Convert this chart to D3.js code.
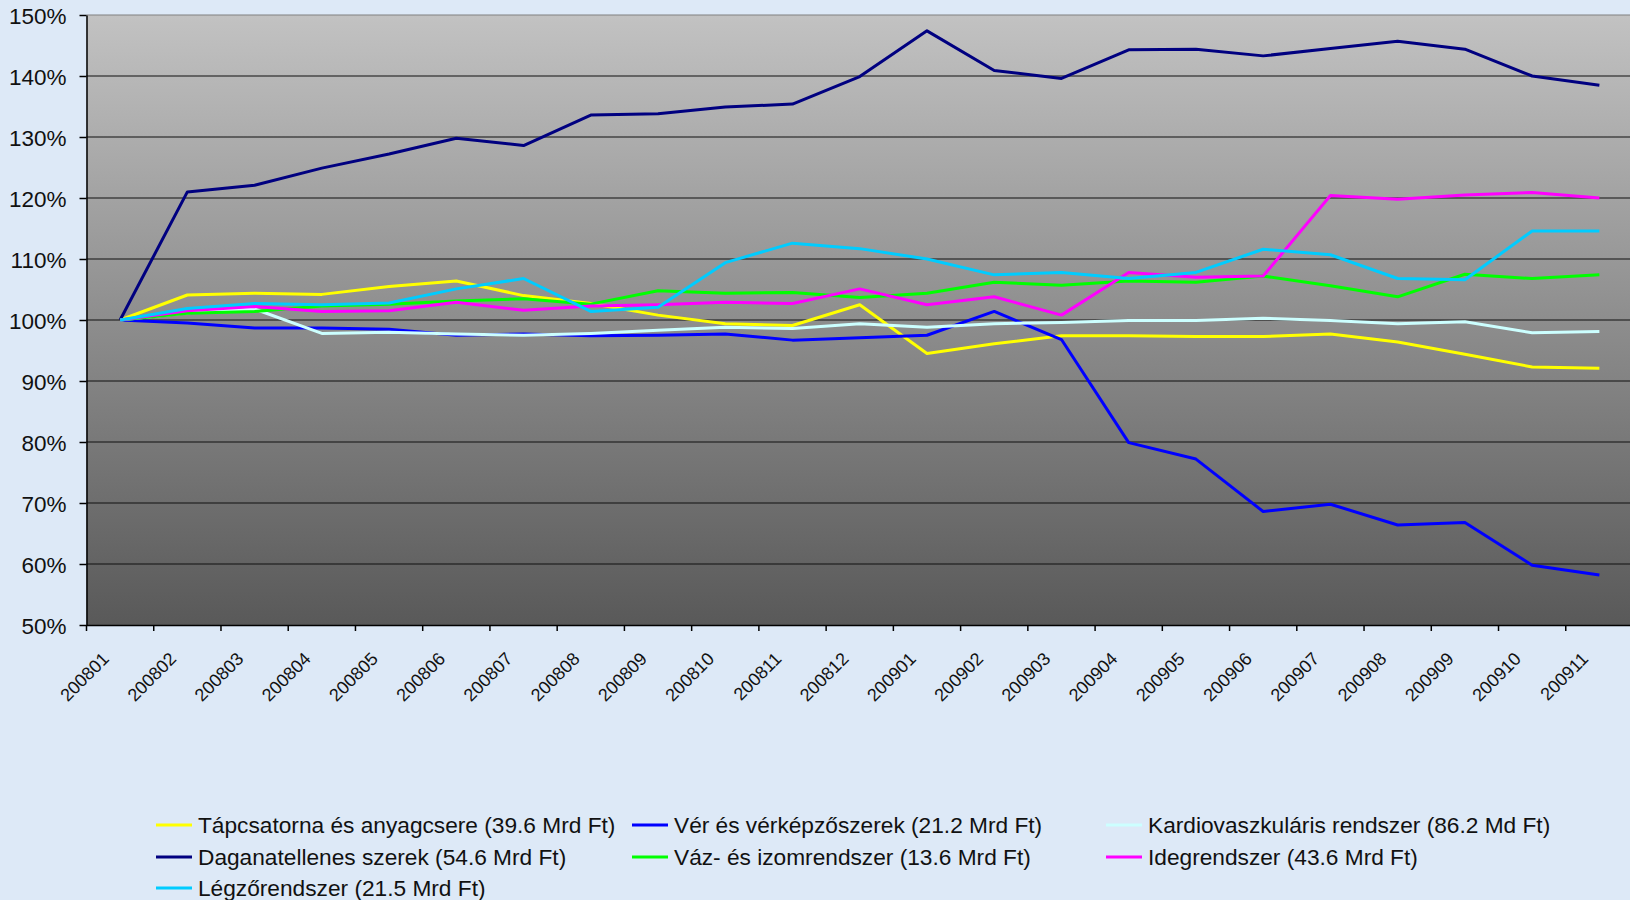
<!DOCTYPE html>
<meta charset="utf-8">
<script src="https://d3js.org/d3.v7.min.js"></script>
<style>
body { margin: 0; background: #dde9f7; }
svg { display: block; }
text { font-family: "Liberation Sans", Arial, sans-serif; fill: #111; }
.grid line { stroke: #111; stroke-width: 1.2px; }
.axis path, .axis line { stroke: #000; stroke-width: 1.5px; }
.series { fill: none; stroke-width: 3px; stroke-linejoin: round; stroke-linecap: butt; }
</style>
<body>
<script>

var months = ["200801","200802","200803","200804","200805","200806","200807","200808",
              "200809","200810","200811","200812","200901","200902","200903","200904",
              "200905","200906","200907","200908","200909","200910","200911"];

var yTicks = [50, 60, 70, 80, 90, 100, 110, 120, 130, 140, 150];

var names = [
  "Tápcsatorna és anyagcsere (39.6 Mrd Ft)",
  "Vér és vérképzőszerek (21.2 Mrd Ft)",
  "Kardiovaszkuláris rendszer (86.2 Md Ft)",
  "Daganatellenes szerek (54.6 Mrd Ft)",
  "Váz- és izomrendszer (13.6 Mrd Ft)",
  "Idegrendszer (43.6 Mrd Ft)",
  "Légzőrendszer (21.5 Mrd Ft)"
];

var colors = ["#ffff00", "#0000ff", "#ccffff", "#000080", "#00ff00", "#ff00ff", "#00ccff"];

// values in percent of 200801
var tapcsatorna = [100, 104.1, 104.4, 104.2, 105.5, 106.4, 104.0, 102.7, 100.8, 99.4, 99.1, 102.5,
                   94.5, 96.1, 97.4, 97.4, 97.3, 97.3, 97.7, 96.4, 94.4, 92.3, 92.1];
var ver = [100, 99.5, 98.7, 98.7, 98.5, 97.5, 97.7, 97.4, 97.5, 97.7, 96.7, 97.1,
           97.5, 101.4, 96.8, 79.9, 77.2, 68.6, 69.8, 66.4, 66.8, 59.8, 58.2];
var kardio = [100, 101.2, 101.8, 97.8, 98.0, 97.7, 97.5, 97.8, 98.3, 98.8, 98.6, 99.4,
              98.8, 99.4, 99.6, 99.9, 99.9, 100.3, 99.9, 99.4, 99.7, 97.9, 98.1];
var daganat = [100, 121.0, 122.1, 124.9, 127.2, 129.8, 128.6, 133.6, 133.8, 134.9, 135.4, 139.9,
               147.4, 140.9, 139.6, 144.3, 144.4, 143.3, 144.5, 145.7, 144.4, 140.0, 138.5];
var vaz = [100, 101.1, 101.4, 102.3, 102.6, 103.1, 103.5, 102.6, 104.8, 104.4, 104.5, 103.7,
           104.4, 106.2, 105.7, 106.4, 106.2, 107.2, 105.6, 103.8, 107.5, 106.8, 107.4];
var ideg = [100, 101.5, 102.2, 101.4, 101.5, 102.9, 101.6, 102.3, 102.5, 102.9, 102.7, 105.1,
            102.5, 103.8, 100.8, 107.8, 107.0, 107.2, 120.4, 119.8, 120.5, 120.9, 120.0];
var legzo = [100, 101.9, 102.7, 102.5, 102.8, 105.1, 106.8, 101.4, 102.1, 109.4, 112.6, 111.7,
             110.0, 107.4, 107.8, 106.8, 107.8, 111.6, 110.7, 106.8, 106.6, 114.6, 114.6];

var seriesValues = [tapcsatorna, ver, kardio, daganat, vaz, ideg, legzo];

(function() {
  var width = 1630, height = 900;
  var plotLeft = 86.5, plotRight = 1633, plotTop = 15, plotBottom = 625;

  var svg = d3.select("body").append("svg")
      .attr("width", width)
      .attr("height", height);

  var x = d3.scaleBand().domain(months).range([plotLeft, plotRight]).padding(0);
  var y = d3.scaleLinear().domain([50, 150]).range([plotBottom, plotTop]);

  // plot background gradient
  var grad = svg.append("defs").append("linearGradient")
      .attr("id", "plotbg")
      .attr("x1", 0).attr("y1", 0).attr("x2", 0).attr("y2", 1);
  grad.append("stop").attr("offset", "0%").attr("stop-color", "#c2c2c2");
  grad.append("stop").attr("offset", "100%").attr("stop-color", "#595959");

  svg.append("rect")
      .attr("x", plotLeft).attr("y", plotTop)
      .attr("width", plotRight - plotLeft).attr("height", plotBottom - plotTop)
      .attr("fill", "url(#plotbg)");

  // gridlines
  svg.append("g").attr("class", "grid")
    .selectAll("line")
    .data(yTicks.slice(1))
    .enter().append("line")
      .attr("x1", plotLeft).attr("x2", plotRight)
      .attr("y1", function(d) { return y(d); })
      .attr("y2", function(d) { return y(d); })
      .style("stroke", function(d) { return d == 150 ? "#808080" : null; });

  // y axis
  var yAxis = svg.append("g")
      .attr("class", "axis")
      .attr("transform", "translate(" + plotLeft + ",0)")
      .call(d3.axisLeft(y).tickValues(yTicks)
            .tickFormat(function(d) { return d + "%"; })
            .tickSize(7).tickSizeOuter(0).tickPadding(13));
  yAxis.selectAll("text").style("font-size", "22.5px").attr("dy", "0.36em");

  // x axis: labels at centers, ticks between categories
  var xAxis = svg.append("g")
      .attr("class", "axis")
      .attr("transform", "translate(0," + plotBottom + ")")
      .call(d3.axisBottom(x).tickSize(0).tickSizeOuter(0));
  xAxis.selectAll("text")
      .attr("x", 0).attr("y", 0).attr("dy", 0)
      .attr("transform", "translate(-10,35) rotate(-45)")
      .style("text-anchor", "end")
      .style("font-size", "18px");

  xAxis.selectAll(".sep")
      .data(months)
      .enter().append("line")
      .attr("class", "sep")
      .attr("x1", function(d) { return x(d); })
      .attr("x2", function(d) { return x(d); })
      .attr("y1", 0).attr("y2", 6);

  // lines
  var line = d3.line()
      .x(function(d, i) { return x(months[i]) + x.bandwidth() / 2; })
      .y(function(d) { return y(d); });

  svg.append("g")
    .selectAll("path")
    .data(seriesValues)
    .enter().append("path")
      .attr("class", "series")
      .attr("d", line)
      .attr("stroke", function(d, i) { return colors[i]; });

  // legend, three columns
  var legX = [156, 632, 1106];
  var legY = [825, 857, 888];

  var leg = svg.append("g")
    .selectAll("g")
    .data(names)
    .enter().append("g")
      .attr("transform", function(d, i) {
        return "translate(" + legX[i % 3] + "," + legY[Math.floor(i / 3)] + ")";
      });

  leg.append("line")
      .attr("x1", 0).attr("x2", 36)
      .attr("y1", 0).attr("y2", 0)
      .attr("stroke", function(d, i) { return colors[i]; })
      .attr("stroke-width", 3);

  leg.append("text")
      .attr("x", 42)
      .attr("dy", "0.36em")
      .style("font-size", "22.7px")
      .text(function(d) { return d; });
})();

</script>
</body>
